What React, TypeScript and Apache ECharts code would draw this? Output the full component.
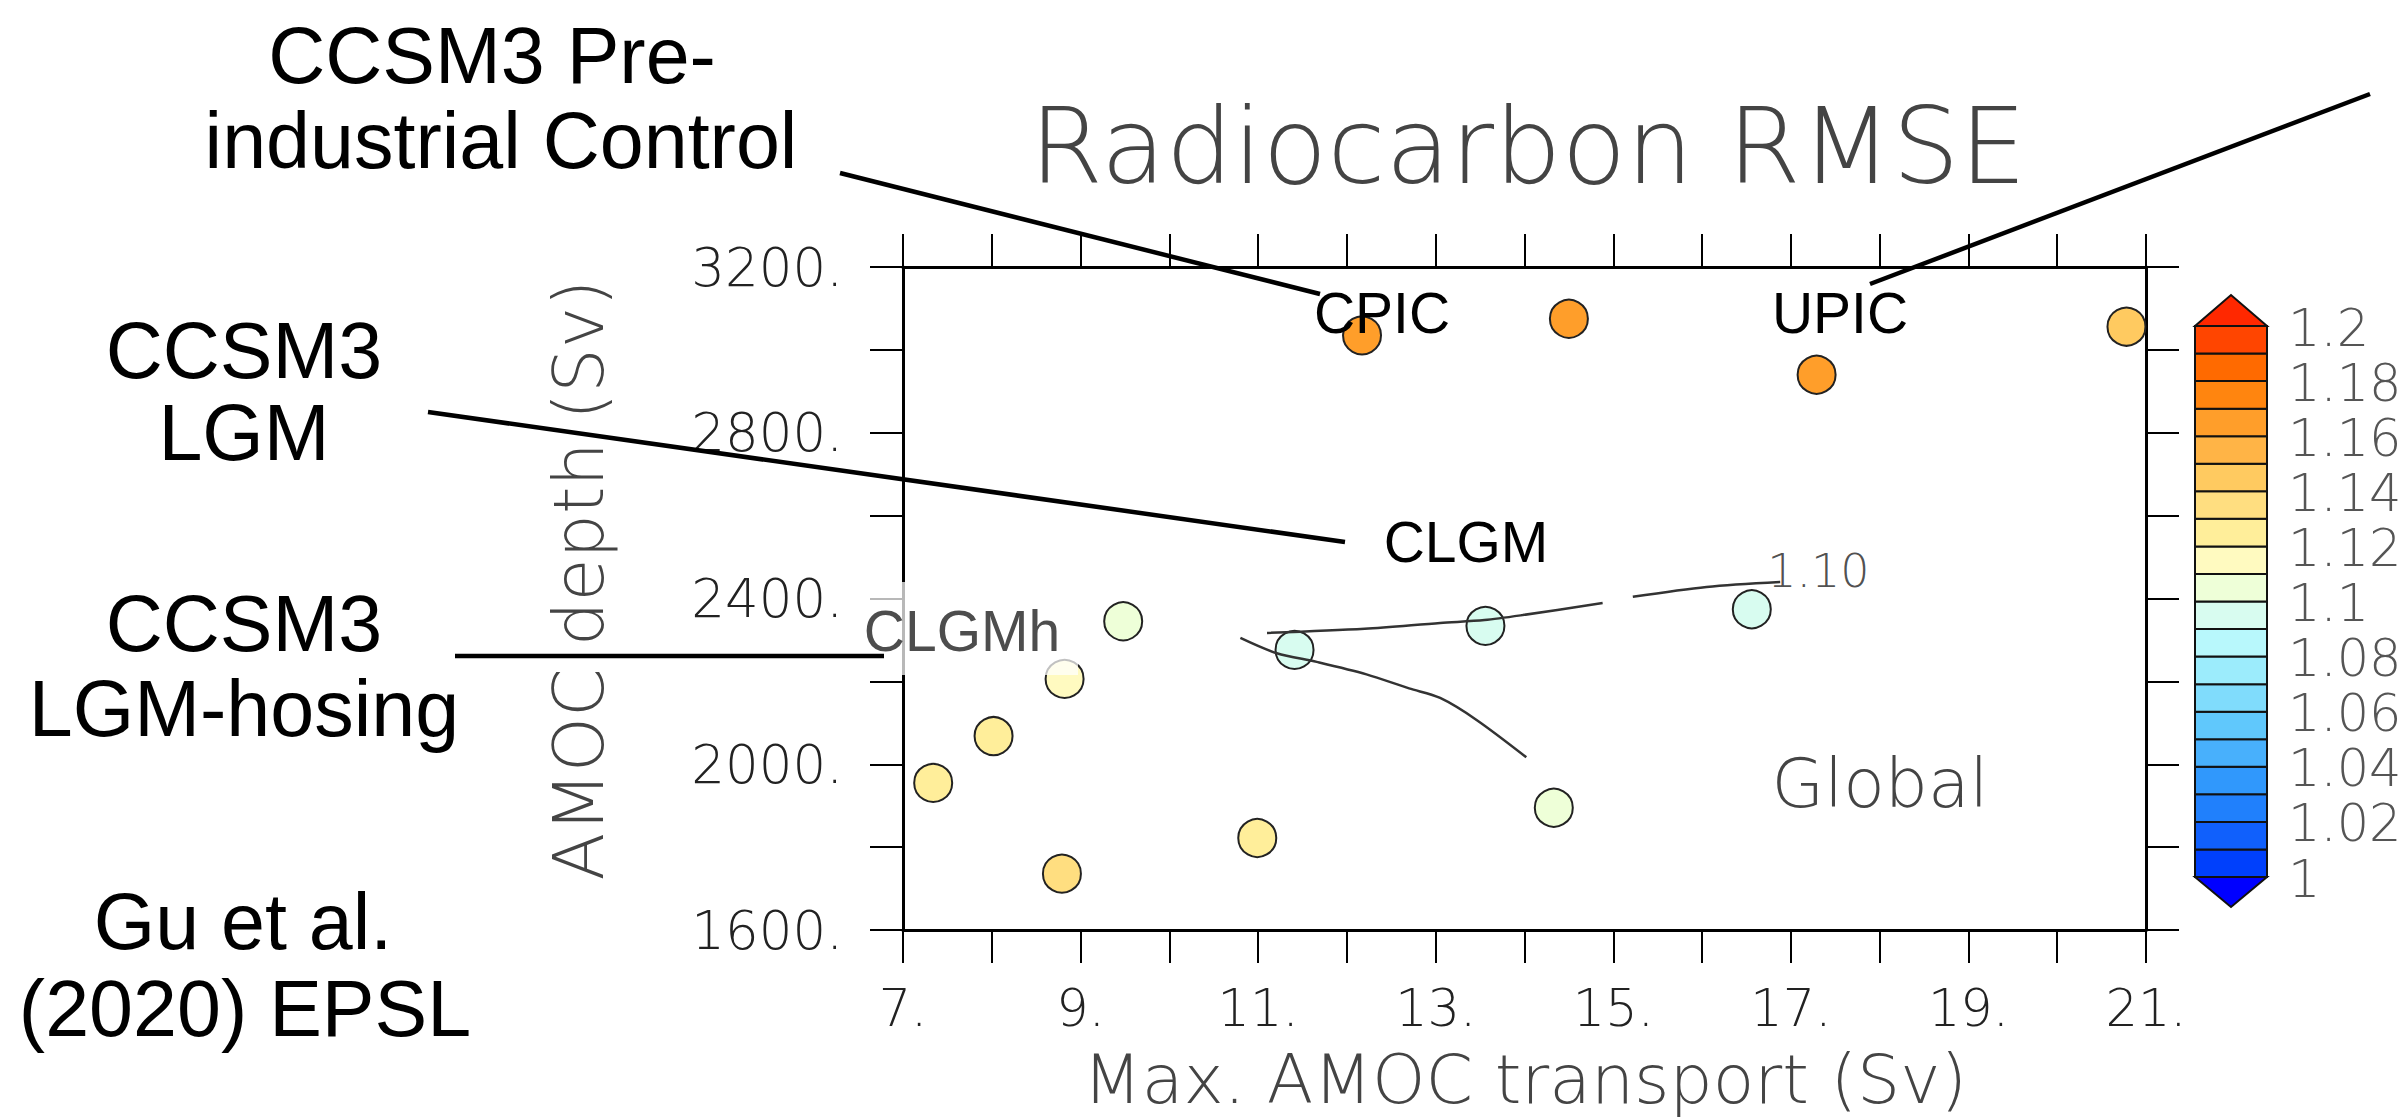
import React, { useEffect, useRef } from "react";
import * as echarts from "echarts";

// ---------- data ----------
const amocTransport = [12.17, 14.5, 17.29, 20.78, 16.56, 13.56, 11.41, 9.48, 8.82, 8.02, 7.34, 10.99, 8.79, 14.33];
const amocDepth = [3035, 3075, 2940, 3056, 2374, 2334, 2276, 2345, 2206, 2068, 1955, 1822, 1736, 1895];
const rmseValues = [1.165, 1.165, 1.165, 1.145, 1.095, 1.095, 1.095, 1.105, 1.115, 1.125, 1.125, 1.125, 1.135, 1.105];

const contourUpperA = [[11.1, 2317], [12.2, 2327], [13.05, 2341], [13.55, 2348], [13.98, 2360], [14.88, 2389]];
const contourUpperB = [[15.22, 2404], [16.05, 2428], [16.88, 2440]];
const contourLower = [[10.8, 2305], [11.21, 2268], [11.66, 2247], [12.22, 2217], [12.7, 2183], [13.05, 2160], [13.46, 2107], [14.02, 2017]];
const contourLabelPos = [17.31, 2466];
const contourLabelText = "1.10";

const levels = [1.0, 1.01, 1.02, 1.03, 1.04, 1.05, 1.06, 1.07, 1.08, 1.09, 1.1, 1.11, 1.12, 1.13, 1.14, 1.15, 1.16, 1.17, 1.18, 1.19, 1.2];
const levelColors = [
  "#0040fc", "#1060fc", "#2080fc", "#3098fc", "#48b0fc", "#60c8fc", "#80dcfc", "#9cecfc", "#b8f8fc", "#d8fcf0",
  "#eeffd8", "#fffac0", "#ffee9a", "#ffde80", "#ffca60", "#ffb446", "#ff9e2a", "#ff850f", "#ff6a00", "#ff4500",
];
const underColor = "#0000ff";
const overColor = "#ff2800";
const colorbarLabels = ["1", "1.02", "1.04", "1.06", "1.08", "1.1", "1.12", "1.14", "1.16", "1.18", "1.2"];

const xMin = 7, xMax = 21, yMin = 1600, yMax = 3200;

const W = 2403, H = 1119;
const ncl = '"DejaVu Sans", sans-serif';
const nclWeight = 200 as any;
const helv = '"Liberation Sans", Arial, sans-serif';

export default function App() {
  const ref = useRef<HTMLDivElement>(null);
  useEffect(() => {
    if (!ref.current) return;
    const chart = echarts.init(ref.current, null, { renderer: "svg" });

    const pieces: any[] = [{ lt: levels[0], color: underColor }];
    for (let i = 0; i < levelColors.length; i++) {
      pieces.push({ gte: levels[i], lt: levels[i + 1], color: levelColors[i] });
    }
    pieces.push({ gte: levels[levels.length - 1], color: overColor });

    // colorbar geometry
    const cbX = 2195, cbW = 72, cbTop = 326, cbBot = 877;
    const bandH = (cbBot - cbTop) / levelColors.length;
    const cbEls: any[] = [];
    levelColors.forEach((c, i) => {
      cbEls.push({
        type: "rect",
        shape: { x: cbX, y: cbBot - (i + 1) * bandH, width: cbW, height: bandH },
        style: { fill: c, stroke: "#111", lineWidth: 2 },
        z: 50,
      });
    });
    cbEls.push({
      type: "polygon",
      shape: { points: [[cbX, cbTop], [cbX + cbW, cbTop], [cbX + cbW / 2, cbTop - 31]] },
      style: { fill: overColor, stroke: "#111", lineWidth: 2 },
      z: 50,
    });
    cbEls.push({
      type: "polygon",
      shape: { points: [[cbX, cbBot], [cbX + cbW, cbBot], [cbX + cbW / 2, cbBot + 30]] },
      style: { fill: underColor, stroke: "#111", lineWidth: 2 },
      z: 50,
    });
    colorbarLabels.forEach((t, j) => {
      cbEls.push({
        type: "text",
        x: 2288,
        y: cbBot - 2 * j * bandH + 2,
        style: { text: t, fontSize: 51, lineHeight: 50, fontFamily: ncl, fontWeight: nclWeight, fill: "#555", align: "left", verticalAlign: "middle" },
        z: 50,
      });
    });

    const bigText = (text: string, x: number, y: number) => ({
      type: "text",
      x,
      y,
      style: { text, fontSize: 79, fontFamily: helv, fill: "#000", align: "center", verticalAlign: "middle" },
      z: 60,
    });
    const midText = (text: string, x: number, y: number, fill = "#000") => ({
      type: "text",
      x,
      y,
      style: { text, fontSize: 57, fontFamily: helv, fill, align: "center", verticalAlign: "middle" },
      z: 62,
    });
    const leader = (x1: number, y1: number, x2: number, y2: number) => ({
      type: "line",
      shape: { x1, y1, x2, y2 },
      style: { stroke: "#000", lineWidth: 4.5 },
      z: 61,
    });

    const option: any = {
      animation: false,
      backgroundColor: "#fff",
      grid: { left: 903, top: 267, width: 1243, height: 663, containLabel: false },
      xAxis: [
        {
          type: "value", min: xMin, max: xMax, interval: 1, position: "bottom",
          axisLine: { show: true, onZero: false, lineStyle: { color: "#000", width: 3 } },
          axisTick: { show: true, inside: false, length: 33, lineStyle: { color: "#000", width: 2 } },
          axisLabel: {
            margin: 53, fontSize: 51, lineHeight: 50, fontFamily: ncl, fontWeight: nclWeight, color: "#222",
            formatter: (v: number) => (Math.round(v) % 2 === 1 ? `${Math.round(v)}.` : ""),
          },
          splitLine: { show: false },
        },
        {
          type: "value", min: xMin, max: xMax, interval: 1, position: "top",
          axisLine: { show: true, onZero: false, lineStyle: { color: "#000", width: 3 } },
          axisTick: { show: true, inside: false, length: 33, lineStyle: { color: "#000", width: 2 } },
          axisLabel: { show: false },
          splitLine: { show: false },
        },
      ],
      yAxis: [
        {
          type: "value", min: yMin, max: yMax, interval: 200, position: "left",
          axisLine: { show: true, onZero: false, lineStyle: { color: "#000", width: 3 } },
          axisTick: { show: true, inside: false, length: 33, lineStyle: { color: "#000", width: 2 } },
          axisLabel: {
            margin: 60, fontSize: 53, lineHeight: 50, fontFamily: ncl, fontWeight: nclWeight, color: "#222",
            formatter: (v: number) => (Math.round(v) % 400 === 0 ? `${Math.round(v)}.` : ""),
          },
          splitLine: { show: false },
        },
        {
          type: "value", min: yMin, max: yMax, interval: 200, position: "right",
          axisLine: { show: true, onZero: false, lineStyle: { color: "#000", width: 3 } },
          axisTick: { show: true, inside: false, length: 33, lineStyle: { color: "#000", width: 2 } },
          axisLabel: { show: false },
          splitLine: { show: false },
        },
      ],
      visualMap: {
        type: "piecewise", show: false, dimension: 2, seriesIndex: 0, pieces,
      },
      series: [
        {
          type: "scatter",
          xAxisIndex: 0, yAxisIndex: 0,
          data: amocTransport.map((x, i) => [x, amocDepth[i], rmseValues[i]]),
          symbolSize: 38,
          itemStyle: { borderColor: "#222", borderWidth: 2, opacity: 1 },
          z: 2,
        },
        ...[contourUpperA, contourUpperB, contourLower].map((d) => ({
          type: "line",
          xAxisIndex: 0, yAxisIndex: 0,
          data: d,
          showSymbol: false,
          symbol: "none",
          smooth: 0.3,
          lineStyle: { color: "#333", width: 2.5 },
          z: 3,
        })),
        {
          type: "scatter",
          xAxisIndex: 0, yAxisIndex: 0,
          data: [contourLabelPos],
          symbolSize: 2,
          itemStyle: { color: "rgba(0,0,0,0)", borderWidth: 0 },
          label: {
            show: true, position: "inside", formatter: contourLabelText,
            fontSize: 46, fontFamily: ncl, fontWeight: nclWeight, color: "#222",
          },
          z: 4,
        },
      ],
      graphic: [
        {
          type: "text", x: 1528, y: 146,
          style: { text: "Radiocarbon RMSE", fontSize: 106, fontFamily: ncl, fontWeight: nclWeight, fill: "#444", align: "center", verticalAlign: "middle" },
          z: 50,
        },
        {
          type: "text", x: 1525, y: 1079,
          style: { text: "Max. AMOC transport (Sv)", fontSize: 68, lineHeight: 68, fontFamily: ncl, fontWeight: nclWeight, fill: "#444", align: "center", verticalAlign: "middle" },
          z: 50,
        },
        {
          type: "text", x: 579, y: 580, rotation: Math.PI / 2,
          style: { text: "AMOC depth (Sv)", fontSize: 70, fontFamily: ncl, fontWeight: nclWeight, fill: "#444", align: "center", verticalAlign: "middle" },
          z: 50,
        },
        {
          type: "text", x: 1880, y: 783,
          style: { text: "Global", fontSize: 68, fontFamily: ncl, fontWeight: nclWeight, fill: "#444", align: "center", verticalAlign: "middle" },
          z: 50,
        },
        ...cbEls,
        // overlay box behind CLGMh
        {
          type: "rect", shape: { x: 860, y: 582, width: 218, height: 93 },
          style: { fill: "rgba(255,255,255,0.72)" },
          z: 58,
        },
        bigText("CCSM3 Pre-", 492, 55),
        bigText("industrial Control", 501, 140),
        bigText("CCSM3", 244, 350),
        bigText("LGM", 244, 432),
        bigText("CCSM3", 244, 623),
        bigText("LGM-hosing", 244, 708),
        bigText("Gu et al.", 243, 921),
        bigText("(2020) EPSL", 245, 1008),
        midText("CPIC", 1382, 313),
        midText("UPIC", 1840, 313),
        midText("CLGM", 1466, 542),
        midText("CLGMh", 962, 631, "#4d4d4d"),
        leader(840, 173, 1320, 294),
        leader(1870, 284, 2370, 94),
        leader(428, 412, 1345, 542),
        leader(455, 656, 884, 656),
      ],
    };
    chart.setOption(option);
    return () => chart.dispose();
  }, []);
  return <div ref={ref} style={{ position: "fixed", left: 0, top: 0, width: W, height: H, background: "#fff" }} />;
}
